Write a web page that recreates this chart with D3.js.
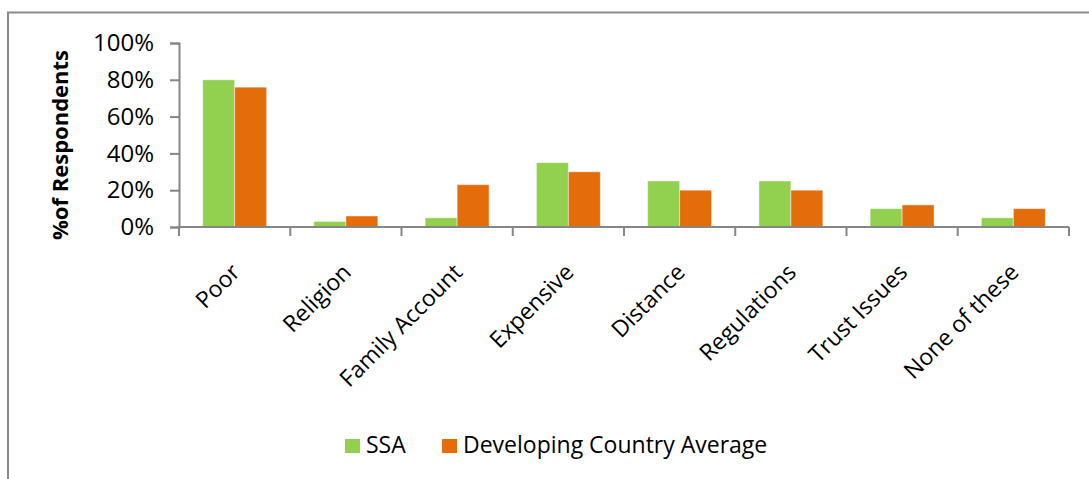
<!DOCTYPE html>
<html>
<head>
<meta charset="utf-8">
<script src="https://cdn.jsdelivr.net/npm/d3@7/dist/d3.min.js"></script>
<style>
  html, body { margin: 0; padding: 0; background: #fff; }
  svg { display: block; }
  text { font-family: "Open Sans", "Liberation Sans", sans-serif; fill: #000; }
</style>
</head>
<body>
<svg id="chart" width="1089" height="479"></svg>
<script>
// Reasons for not having a bank account, share of respondents (%)
const categories = ["Poor", "Religion", "Family Account", "Expensive", "Distance", "Regulations", "Trust Issues", "None of these"];
const ssaValues = [80, 3, 5, 35, 25, 25, 10, 5];
const developingValues = [76, 6, 23, 30, 20, 20, 12, 10];
const seriesNames = ["SSA", "Developing Country Average"];
const seriesColors = ["#92D050", "#E46C0A"];
const yTicks = [0, 20, 40, 60, 80, 100];

const svg = d3.select("#chart");
const axisColor = "#868686";

// Outer chart frame (only its top and left edges fall inside the view)
svg.append("rect")
  .attr("x", 8).attr("y", 12.5)
  .attr("width", 1300).attr("height", 700)
  .attr("fill", "none").attr("stroke", "#8a8a8a").attr("stroke-width", 2);

const plot = { left: 179, right: 1069, top: 43, bottom: 227 };

const x = d3.scaleBand().domain(categories).range([plot.left, plot.right]).paddingInner(0).paddingOuter(0);
const inner = d3.scaleBand().domain(seriesNames).range([0, x.bandwidth()]).paddingInner(0).paddingOuter(0.74);
const y = d3.scaleLinear().domain([0, 100]).range([plot.bottom, plot.top]);

const rows = categories.map((c, i) => ({ category: c, values: [ssaValues[i], developingValues[i]] }));

// Bars
const groups = svg.append("g").selectAll("g").data(rows).join("g")
  .attr("transform", d => `translate(${x(d.category)},0)`);
groups.selectAll("rect")
  .data(d => d.values.map((v, k) => ({ series: seriesNames[k], value: v, color: seriesColors[k] })))
  .join("rect")
  .attr("x", d => inner(d.series))
  .attr("y", d => y(d.value))
  .attr("width", inner.bandwidth())
  .attr("height", d => y(0) - y(d.value))
  .attr("fill", d => d.color)
  .attr("stroke", "rgba(255,255,255,0.45)")
  .attr("stroke-width", 1);

// Y axis
const yAxis = d3.axisLeft(y).tickValues(yTicks).tickFormat(d => d + "%").tickSize(9).tickPadding(16);
const gy = svg.append("g").attr("transform", `translate(${plot.left},0)`).call(yAxis);
gy.select(".domain").attr("stroke", axisColor).attr("stroke-width", 2);
gy.selectAll(".tick line").attr("stroke", axisColor).attr("stroke-width", 2);
gy.selectAll(".tick text").attr("font-size", 24).attr("font-family", "Open Sans").attr("fill", "#000");

// X axis: line with ticks at category boundaries
const gx = svg.append("g");
gx.append("line")
  .attr("x1", plot.left).attr("x2", plot.right)
  .attr("y1", y(0)).attr("y2", y(0))
  .attr("stroke", axisColor).attr("stroke-width", 2);
const boundaries = categories.map(c => x(c)).concat([x(categories[categories.length - 1]) + x.bandwidth()]);
gx.selectAll("line.tk").data(boundaries).join("line").attr("class", "tk")
  .attr("x1", d => d).attr("x2", d => d)
  .attr("y1", y(0)).attr("y2", y(0) + 9)
  .attr("stroke", axisColor).attr("stroke-width", 2);

// Rotated category labels
gx.selectAll("text").data(categories).join("text")
  .attr("transform", d => `translate(${x(d) + x.bandwidth() / 2 - 5},262) rotate(-45)`)
  .attr("text-anchor", "end")
  .attr("dy", "0.72em")
  .attr("font-size", 23)
  .text(d => d);

// Y axis title
svg.append("text")
  .attr("transform", `translate(68,${(plot.top + plot.bottom) / 2 + 10}) rotate(-90)`)
  .attr("text-anchor", "middle")
  .attr("font-size", 22)
  .attr("font-weight", "bold")
  .text("%of Respondents");

// Legend
const legendItems = [
  { name: seriesNames[0], color: seriesColors[0], x: 345 },
  { name: seriesNames[1], color: seriesColors[1], x: 442 }
];
const lg = svg.append("g").selectAll("g").data(legendItems).join("g")
  .attr("transform", d => `translate(${d.x},439)`);
lg.append("rect").attr("width", 15).attr("height", 14).attr("fill", d => d.color);
lg.append("text").attr("x", 21).attr("y", 14).attr("font-size", 23).text(d => d.name);
</script>
</body>
</html>
